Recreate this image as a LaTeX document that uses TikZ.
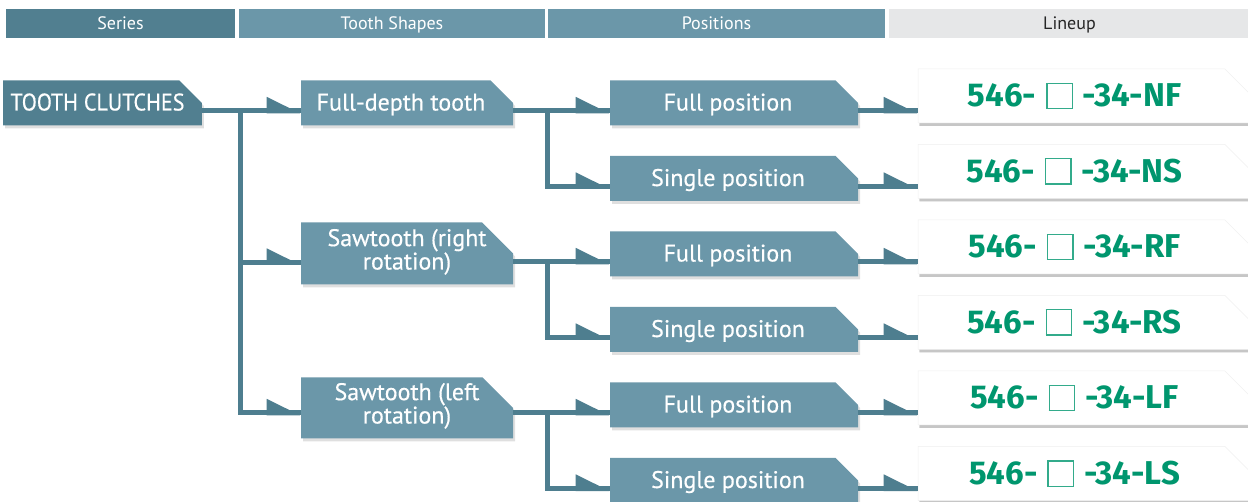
\documentclass[tikz,border=0pt]{standalone}
\usepackage{graphicx}
\usepackage{fontspec}
\setmainfont{PT Sans}
\newfontfamily\tagfont{PT Sans}[FakeBold=0.4]
\newfontfamily\codefont{Fira Sans}
\usetikzlibrary{calc, arrows.meta, shapes.misc, shadows}
\definecolor{tealD}{RGB}{81,127,144}
\definecolor{tealL}{RGB}{107,151,169}
\definecolor{linkC}{RGB}{78,126,143}
\definecolor{headG}{RGB}{230,231,232}
\definecolor{codeG}{RGB}{0,150,110}

\tikzset{
  head/.style={rectangle, inner sep=0pt, minimum height=29pt, text=white,
    text height=13pt, text depth=0pt, font=\fontsize{18}{20}\selectfont},
  tag/.style={chamfered rectangle, chamfered rectangle corners=north east,
    chamfered rectangle xsep=17pt, chamfered rectangle ysep=15pt,
    inner sep=0pt, outer sep=0pt, fill=tealL, text=white, align=center,
    text height=15pt, text depth=-7pt, font=\tagfont\fontsize{24}{22}\selectfont,
    drop shadow={shadow xshift=2pt, shadow yshift=-3pt, opacity=0.25}},
  code/.style={tag, fill=white, draw=black!6, line width=0.5pt, text=codeG,
    minimum width=334pt, chamfered rectangle xsep=25pt, chamfered rectangle ysep=16pt,
    text height=22pt, text depth=-2pt, font=\codefont\bfseries\fontsize{33}{34}\selectfont,
    drop shadow={shadow xshift=1pt, shadow yshift=-3pt, opacity=0.3, fill=black!45}},
  link/.style={draw=linkC, line width=5pt,
    preaction={draw=linkC, line width=5pt, arrows=-},
    -{Triangle[left, length=29pt, width=27pt]}}
}
\newcommand{\blankbox}{{\setlength\fboxsep{0pt}\setlength\fboxrule{1.4pt}%
  \raisebox{-1pt}{\fcolorbox{codeG!80}{white}{\rule{0pt}{24pt}\rule{24pt}{0pt}}}}}

\begin{document}
\begin{tikzpicture}[x=1pt, y=-1pt]
  \useasboundingbox (0,0) rectangle (1248,502);

  % column headers
  \node[head, fill=tealD, minimum width=229pt] (hser) at (120.5,23.5) {Series};
  \node[head, fill=tealL, minimum width=306pt] (hsha) at (392,23.5) {Tooth Shapes};
  \node[head, fill=tealL, minimum width=337pt] (hpos) at (716.5,23.5) {Positions};
  \node[head, fill=headG, text=black!85, minimum width=361pt] (hlin) at (1069.5,23.5) {Lineup};

  % series and tooth shapes
  \node[tag, fill=tealD, minimum width=193pt] (root) at (102.5,103) {\scalebox{0.92}[1]{TOOTH CLUTCHES}\hspace*{10pt}};
  \node[tag, minimum width=212pt] (sh1) at (407,103) {Full-depth tooth\hspace*{12pt}};
  \node[tag, minimum width=212pt, text height=32pt, text depth=-9pt] (sh2) at (407,253.5) {Sawtooth (right\\rotation)};
  \node[tag, minimum width=212pt, text height=31pt, text depth=-9pt] (sh3) at (407,408) {Sawtooth (left\\rotation)};

  \coordinate (j0) at ($(root.east)+(39,8)$);
  \draw[link] ($(root.east)+(0,8)$) -- ($(sh1.west)+(0,8)$);
  \draw[link] (j0) |- ($(sh2.west)+(0,9)$);
  \draw[link] (j0) |- ($(sh3.west)+(0,5)$);

  % positions and lineup
  \foreach \n/\y/\txt/\code in {1/103/Full/NF, 2/178.5/Single/NS, 3/254/Full/RF,
      4/329.5/Single/RS, 5/405/Full/LF, 6/480.5/Single/LS} {
    \node[tag, minimum width=248pt] (p\n) at (734,\y) {\txt{} position\hspace*{12pt}};
    \node[code] (l\n) at ($(p\n)+(351,-7)$) {546-\hspace{10pt}\blankbox\hspace{10pt}-34-\code\hspace*{21pt}};
    \draw[link] ($(p\n.east)+(0,8)$) coordinate (o\n) -- (l\n.west |- o\n);
  }

  \foreach \s/\a/\b in {1/1/2, 2/3/4, 3/5/6} {
    \coordinate (j\s) at ($(sh\s.east |- p\a)+(34,8)$);
    \draw[link] (sh\s.east |- j\s) -- (p\a.west |- j\s);
    \draw[link] (j\s) |- ($(p\b.west)+(0,8)$);
  }
\end{tikzpicture}
\end{document}
